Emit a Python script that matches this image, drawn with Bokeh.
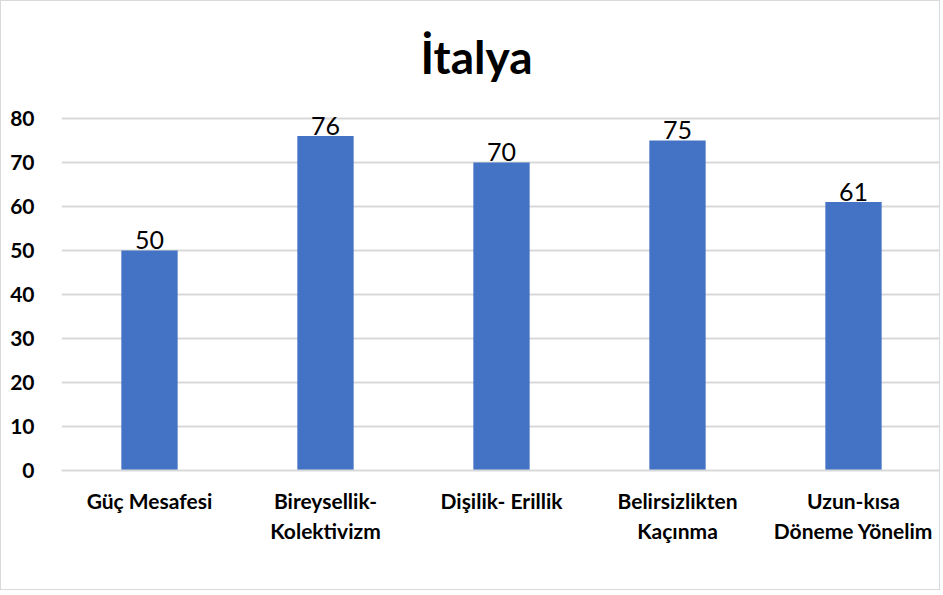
from bokeh.plotting import figure
from bokeh.models import ColumnDataSource, FixedTicker, LabelSet
from bokeh.core.properties import value
from bokeh.embed import file_html
from bokeh.resources import INLINE

categories = ["Güç Mesafesi", "Bireysellik-\nKolektivizm", "Dişilik- Erillik",
              "Belirsizlikten\nKaçınma", "Uzun-kısa\nDöneme Yönelim"]
values = [50, 76, 70, 75, 61]
y_ticks = [0, 10, 20, 30, 40, 50, 60, 70, 80]
title_text = "İtalya"

FONT = "Lato"
BLUE = "#4472C4"
GRID = "#d9d9d9"

src = ColumnDataSource(data=dict(cat=categories, val=values,
                                 lbl=[str(v) for v in values]))

# y range extended above 80 so that the title sits inside the frame area
p = figure(x_range=categories, y_range=(0, 105.45), width=940, height=590,
           output_backend="svg", toolbar_location=None,
           min_border_left=60, min_border_right=0,
           min_border_bottom=121, min_border_top=5)

p.vbar(x="cat", top="val", width=0.32, source=src, fill_color=BLUE, line_color=None)

labels = LabelSet(x="cat", y="val", text="lbl", source=src, text_align="center",
                  text_baseline="bottom", y_offset=1, text_font_size="25px",
                  text_color="#000000", text_font=value(FONT))
p.add_layout(labels)

p.text(x=[2.5], y=[94.1], text=[title_text], x_offset=-25,
       text_align="center", text_baseline="middle", text_font=value(FONT),
       text_font_size="46px", text_font_style="bold", text_color="#000000")

p.outline_line_color = None
p.background_fill_color = "white"
p.border_fill_color = "white"

p.yaxis.ticker = FixedTicker(ticks=y_ticks)
p.yaxis.axis_line_color = None
p.yaxis.major_tick_line_color = None
p.yaxis.minor_tick_line_color = None
p.yaxis.major_label_text_font = FONT
p.yaxis.major_label_text_font_size = "21px"
p.yaxis.major_label_text_font_style = "bold"
p.yaxis.major_label_text_color = "#000000"
p.yaxis.major_label_standoff = 21

p.xaxis.axis_line_color = GRID
p.xaxis.axis_line_width = 2
p.xaxis.major_tick_line_color = None
p.xaxis.minor_tick_line_color = None
p.xaxis.major_label_text_font = FONT
p.xaxis.major_label_text_font_size = "21px"
p.xaxis.major_label_text_font_style = "bold"
p.xaxis.major_label_text_color = "#000000"
p.xaxis.major_label_standoff = 11

p.xgrid.grid_line_color = None
p.ygrid.grid_line_color = GRID
p.ygrid.grid_line_width = 2

p.styles = {"border": "1px solid #d9d9d9"}

open("out.html", "w").write(file_html(p, INLINE))
